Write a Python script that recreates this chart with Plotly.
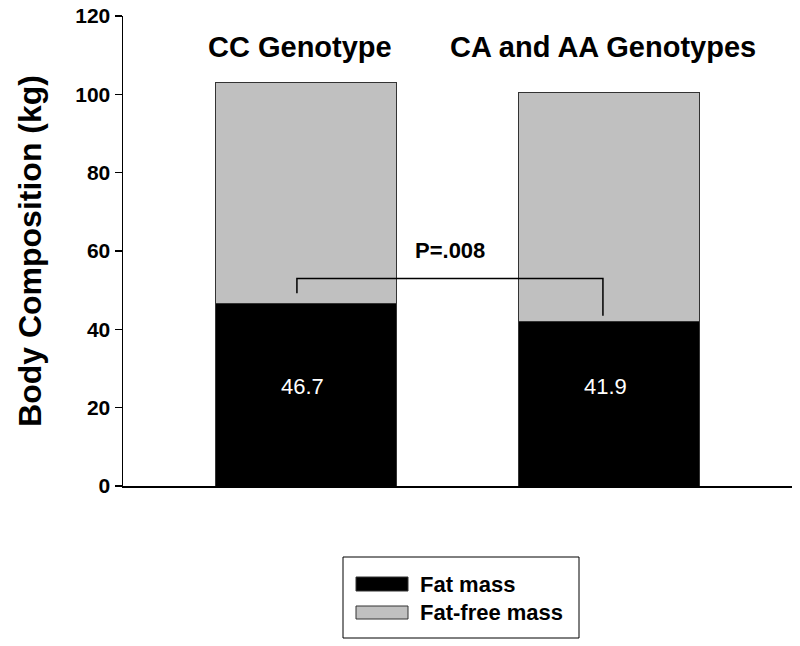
import plotly.graph_objects as go

# Data
groups = ["CC Genotype", "CA and AA Genotypes"]
group_pos = [1, 2]
fat_mass = [46.7, 41.9]
fat_free_mass = [56.4, 58.5]
fat_labels = ["46.7", "41.9"]
y_ticks = [0, 20, 40, 60, 80, 100, 120]
p_text = "P=.008"
bracket_levels = [49.2, 53.0, 43.5]   # left end, bar, right end
bracket_x = [0.97, 1.98]

FONT = "Liberation Sans, Arial, Helvetica, sans-serif"

fig = go.Figure()
fig.add_trace(go.Bar(
    x=group_pos, y=fat_mass, name="Fat mass", width=0.6,
    marker=dict(color="black", line=dict(color="#333333", width=1)),
    showlegend=False, hoverinfo="skip"))
fig.add_trace(go.Bar(
    x=group_pos, y=fat_free_mass, name="Fat-free mass", width=0.6,
    marker=dict(color="#c0c0c0", line=dict(color="#333333", width=1)),
    showlegend=False, hoverinfo="skip"))

# value labels in the fat bars
for xp, lab in zip(group_pos, fat_labels):
    fig.add_annotation(x=xp - 0.01, y=25.5, text=lab, showarrow=False,
                       font=dict(family=FONT, size=22, color="white"))

# group titles
for xp, g in zip(group_pos, groups):
    fig.add_annotation(x=xp - 0.02, y=112.2, text="<b>%s</b>" % g, showarrow=False,
                       font=dict(family=FONT, size=29, color="black"))

# significance bracket
fig.add_trace(go.Scatter(
    x=[bracket_x[0], bracket_x[0], bracket_x[1], bracket_x[1]],
    y=[bracket_levels[0], bracket_levels[1], bracket_levels[1], bracket_levels[2]],
    mode="lines", line=dict(color="black", width=1.5),
    showlegend=False, hoverinfo="skip"))
fig.add_annotation(x=(bracket_x[0] + bracket_x[1]) / 2, y=60.2, text="<b>%s</b>" % p_text,
                   showarrow=False, font=dict(family=FONT, size=22, color="black"))

# manual legend (wide swatches like the original); page pixel -> paper
def px_x(px):
    return (px - 123) / 669.0

def px_y(py):
    return (486 - py) / 470.0

fig.add_shape(type="rect", xref="paper", yref="paper",
              x0=px_x(343), x1=px_x(579), y0=px_y(638), y1=px_y(557),
              line=dict(color="black", width=1), fillcolor="white")
legend_items = [("Fat mass", "black", 577, 591), ("Fat-free mass", "#c0c0c0", 606, 619)]
for name, col, t, b in legend_items:
    fig.add_shape(type="rect", xref="paper", yref="paper",
                  x0=px_x(356), x1=px_x(408), y0=px_y(b), y1=px_y(t),
                  line=dict(color="#333333", width=1), fillcolor=col)
    fig.add_annotation(xref="paper", yref="paper", x=px_x(418), y=px_y((t + b) / 2),
                       xanchor="left", yanchor="middle", text="<b>%s</b>" % name,
                       showarrow=False, font=dict(family=FONT, size=22, color="black"))

fig.update_layout(
    barmode="stack",
    width=800, height=646,
    margin=dict(l=123, r=8, t=16, b=160, autoexpand=False),
    paper_bgcolor="white", plot_bgcolor="white",
    font=dict(family=FONT, color="black"),
    xaxis=dict(range=[0.396, 2.604], showticklabels=False, ticks="",
               showgrid=False, zeroline=False, showline=True, automargin=False,
               linecolor="black", linewidth=1.5),
    yaxis=dict(range=[0, 120], tickvals=y_ticks,
               ticktext=["<b>%d</b>" % v for v in y_ticks],
               ticklabeloverflow="allow", automargin=False,
               ticks="outside", ticklen=7, tickwidth=1.5, tickcolor="black",
               tickfont=dict(family=FONT, size=21, color="black"),
               showgrid=False, zeroline=False, showline=True,
               linecolor="black", linewidth=1.5,
               title=dict(text="<b>Body Composition (kg)</b>",
                          font=dict(family=FONT, size=32, color="black"),
                          standoff=24)),
)

fig.write_html("out.html",
               config={"displayModeBar": False, "staticPlot": True},
               post_script="document.body.style.margin='0px';document.body.style.overflow='hidden';")
